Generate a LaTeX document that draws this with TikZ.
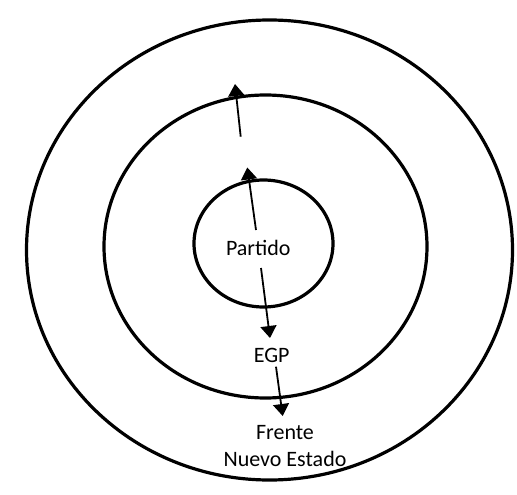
\documentclass[tikz,border=0pt]{standalone}
\usepackage{fontspec}
\setmainfont{Carlito}
\usetikzlibrary{arrows.meta}
\begin{document}
\begin{tikzpicture}[x=1pt,y=-1pt,
  ring/.style={line width=3.2pt},
  arr/.style={line width=1.8pt,-{Triangle[length=12pt,width=16pt]}},
  lbl/.style={font=\fontsize{22}{27}\selectfont, align=center, inner sep=0pt}]
\useasboundingbox[fill=white] (0,0) rectangle (517,495);
\draw[ring] (269.5,250) ellipse [x radius=243, y radius=230];
\draw[ring] (265.5,246.5) ellipse [x radius=161.5, y radius=151.5];
\draw[ring] (263.5,243.5) ellipse [x radius=69.5, y radius=63.5];
\node[lbl] (partido) at (258.3,248.3) {Partido};
\node[lbl] (egp) at (271.7,355) {EGP};
\node[lbl] (frente) at (285,446.5) {Frente\\Nuevo Estado};
\coordinate (a1s) at (240.7,136.7); \coordinate (a1e) at (235,84);
\coordinate (a2s) at (256,230); \coordinate (a2e) at (247.3,167.5);
\coordinate (a3s) at (261,268); \coordinate (a3e) at (270,338);
\coordinate (a4s) at (276,366.7); \coordinate (a4e) at (282.7,416);
\draw[arr] (a1s) -- (a1e);
\draw[arr] (a2s) -- (a2e);
\draw[arr] (a3s) -- (a3e);
\draw[arr] (a4s) -- (a4e);
\end{tikzpicture}
\end{document}
